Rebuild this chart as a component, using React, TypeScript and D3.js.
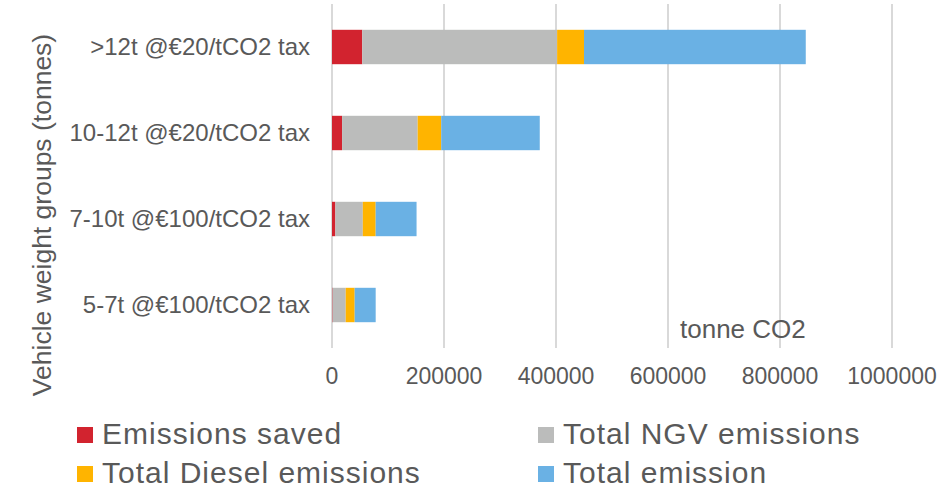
import React from 'react'
import * as d3 from 'd3'

// categories listed top to bottom
const categories = [
  '>12t @€20/tCO2 tax',
  '10-12t @€20/tCO2 tax',
  '7-10t @€100/tCO2 tax',
  '5-7t @€100/tCO2 tax',
]

const emissionsSaved = [54000, 18000, 6000, 1000]
const totalNGV = [348000, 135000, 49000, 23500]
const totalDiesel = [48000, 42000, 23000, 16000]
const totalEmission = [396000, 176000, 73000, 37500]

const xTicks = [0, 200000, 400000, 600000, 800000, 1000000]

const seriesNames = ['Emissions saved', 'Total NGV emissions', 'Total Diesel emissions', 'Total emission']
const seriesValues = [emissionsSaved, totalNGV, totalDiesel, totalEmission]
const colors = ['#D2232F', '#BBBCBB', '#FFB400', '#6AB1E4']

const W = 946, H = 494
const font = '"Liberation Sans", Arial, sans-serif'
const textColor = '#595959'

export default function App() {
  const x = d3.scaleLinear().domain([0, 1000000]).range([332, 892])
  const y = d3.scaleBand().domain(categories).range([4, 348]).paddingInner(0.6).paddingOuter(0.3)

  // build stacked rows for d3.stack
  const rows = categories.map((c, i) => {
    const r: any = { cat: c }
    seriesNames.forEach((s, j) => { r[s] = seriesValues[j][i] })
    return r
  })
  const stacked = d3.stack().keys(seriesNames)(rows)

  const legendPos = [
    { x: 77, y: 427 },
    { x: 538, y: 427 },
    { x: 77, y: 466 },
    { x: 538, y: 466 },
  ]

  return (
    <svg width={W} height={H} style={{ position: 'absolute', left: 0, top: 0, background: '#fff' }} fontFamily={font}>
      {/* gridlines */}
      {xTicks.map(t => (
        <line key={t} x1={x(t)} x2={x(t)} y1={4} y2={348} stroke="#D9D9D9" strokeWidth={2} />
      ))}

      {/* bars */}
      {stacked.map((layer, j) => (
        <g key={layer.key} fill={colors[j]}>
          {layer.map((d: any, i) => (
            <rect key={i} x={x(d[0])} y={y(categories[i])} width={x(d[1]) - x(d[0])} height={y.bandwidth()} />
          ))}
        </g>
      ))}

      {/* category labels */}
      {categories.map(c => (
        <text key={c} x={310} y={(y(c) as number) + y.bandwidth() / 2 + 8} textAnchor="end" fontSize={24} fill={textColor}>{c}</text>
      ))}

      {/* x tick labels */}
      {xTicks.map(t => (
        <text key={t} x={x(t)} y={384} textAnchor="middle" fontSize={23} fill={textColor}>{t}</text>
      ))}

      <text x={680} y={338} fontSize={26} fill={textColor}>tonne CO2</text>

      {/* y axis title */}
      <text transform={`translate(51,215) rotate(-90)`} textAnchor="middle" fontSize={26.5} fill={textColor}>Vehicle weight groups (tonnes)</text>

      {/* legend */}
      {seriesNames.map((s, j) => (
        <g key={s} transform={`translate(${legendPos[j].x},${legendPos[j].y})`}>
          <rect x={0} y={0} width={16} height={16} fill={colors[j]} />
          <text x={25} y={17} fontSize={30} fill={textColor} letterSpacing={1}>{s}</text>
        </g>
      ))}
    </svg>
  )
}
